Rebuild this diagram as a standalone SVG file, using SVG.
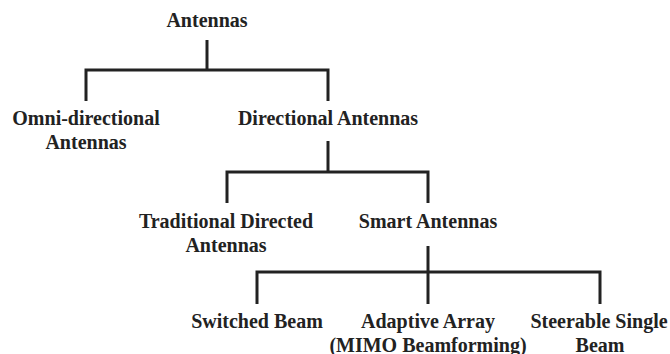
<svg xmlns="http://www.w3.org/2000/svg" width="670" height="354" viewBox="0 0 670 354">
<style>
.t{font-family:"Liberation Serif","Times New Roman",serif;font-weight:bold;font-size:20px;fill:#222;text-anchor:middle}
.c{fill:none;stroke:#222;stroke-width:3;stroke-linejoin:miter}
</style>
<rect width="670" height="354" fill="#fff"/>
<g id="connectors">
<path class="c" d="M207 40V70"/>
<path class="c" d="M86 101V70H328V101"/>
<path class="c" d="M328 141V172"/>
<path class="c" d="M227 203V172H428V203"/>
<path class="c" d="M428 246V272"/>
<path class="c" d="M257 304V272H600V304"/>
<path class="c" d="M428 272V304"/>
</g>
<g id="antennas"><text class="t" x="207" y="27">Antennas</text></g>
<g id="omni"><text class="t" x="86" y="125">Omni-directional</text><text class="t" x="86" y="149">Antennas</text></g>
<g id="directional"><text class="t" x="328" y="125">Directional Antennas</text></g>
<g id="traditional"><text class="t" x="226" y="228">Traditional Directed</text><text class="t" x="226" y="252">Antennas</text></g>
<g id="smart"><text class="t" x="428" y="228">Smart Antennas</text></g>
<g id="switched"><text class="t" x="257" y="328">Switched Beam</text></g>
<g id="adaptive"><text class="t" x="428" y="328">Adaptive Array</text><text class="t" x="428" y="352">(MIMO Beamforming)</text></g>
<g id="steerable"><text class="t" x="599" y="328">Steerable Single</text><text class="t" x="600" y="352">Beam</text></g>
</svg>
